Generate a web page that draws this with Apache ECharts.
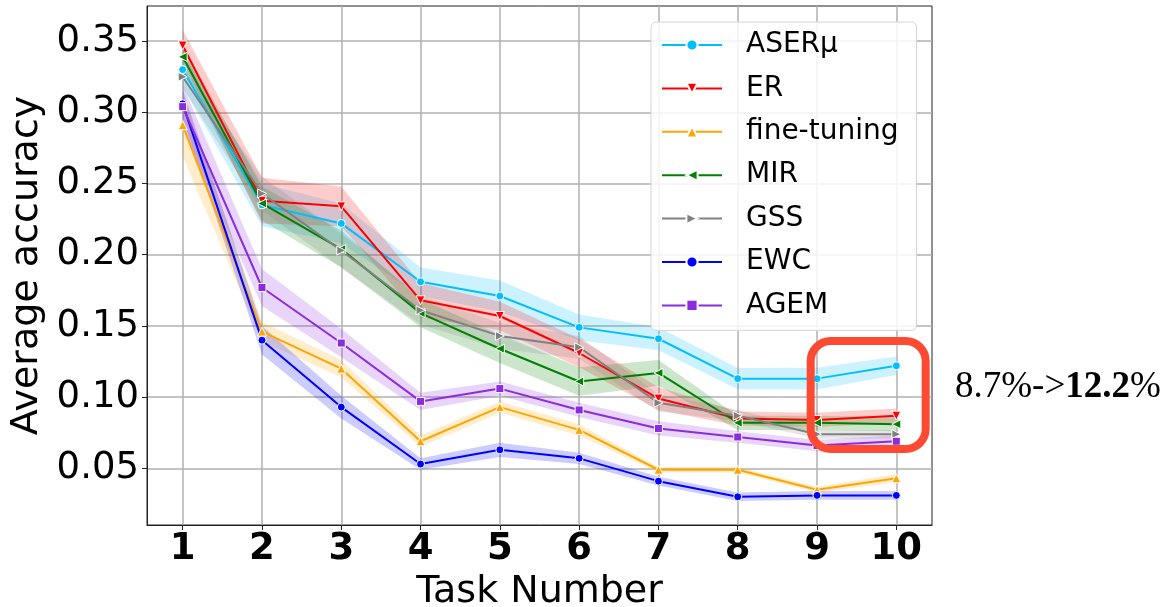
<!DOCTYPE html>
<html><head><meta charset="utf-8">
<script src="https://cdn.jsdelivr.net/npm/echarts@6/dist/echarts.min.js"></script>
<style>html,body{margin:0;padding:0;background:#fff}#c{width:1166px;height:607px}</style>
</head><body><div id="c"></div>
<script>
// ---- data ----
const taskNumbers = [1, 2, 3, 4, 5, 6, 7, 8, 9, 10];
const methodNames = ['ASERμ', 'ER', 'fine-tuning', 'MIR', 'GSS', 'EWC', 'AGEM'];

const aserMean = [0.330, 0.235, 0.222, 0.181, 0.171, 0.149, 0.141, 0.113, 0.113, 0.122];
const erMean   = [0.347, 0.238, 0.234, 0.168, 0.157, 0.131, 0.099, 0.085, 0.084, 0.087];
const ftMean   = [0.291, 0.146, 0.120, 0.069, 0.093, 0.077, 0.049, 0.049, 0.035, 0.043];
const mirMean  = [0.339, 0.236, 0.204, 0.159, 0.134, 0.111, 0.117, 0.082, 0.082, 0.081];
const gssMean  = [0.325, 0.243, 0.203, 0.161, 0.143, 0.135, 0.096, 0.087, 0.074, 0.074];
const ewcMean  = [0.306, 0.140, 0.093, 0.053, 0.063, 0.057, 0.041, 0.030, 0.031, 0.031];
const agemMean = [0.304, 0.177, 0.138, 0.097, 0.106, 0.091, 0.078, 0.072, 0.066, 0.069];

// half-width of the shaded confidence band
const aserSpread = [0.012, 0.015, 0.014, 0.010, 0.011, 0.009, 0.008, 0.0075, 0.0077, 0.0065];
const erSpread   = [0.011, 0.016, 0.014, 0.012, 0.010, 0.010, 0.008, 0.005, 0.005, 0.005];
const ftSpread   = [0.022, 0.007, 0.006, 0.004, 0.004, 0.004, 0.002, 0.002, 0.002, 0.003];
const mirSpread  = [0.008, 0.012, 0.013, 0.010, 0.010, 0.010, 0.009, 0.005, 0.005, 0.005];
const gssSpread  = [0.008, 0.012, 0.012, 0.010, 0.009, 0.008, 0.006, 0.004, 0.003, 0.003];
const ewcSpread  = [0.010, 0.010, 0.008, 0.004, 0.005, 0.004, 0.003, 0.003, 0.003, 0.003];
const agemSpread = [0.015, 0.013, 0.010, 0.006, 0.005, 0.005, 0.005, 0.004, 0.004, 0.004];

const annotationBefore = '8.7%->';
const annotationAfter = '12.2';

// ---- styling ----
const methods = [
  { mean: aserMean, spread: aserSpread, color: '#00bfff', band: 'rgba(0,191,255,0.2)',  symbol: 'circle',   rotate: 0,   size: 8 },
  { mean: erMean,   spread: erSpread,   color: '#ff0000', band: 'rgba(255,0,0,0.2)',    symbol: 'triangle', rotate: 180, size: 9 },
  { mean: ftMean,   spread: ftSpread,   color: '#ffa500', band: 'rgba(255,165,0,0.2)',  symbol: 'triangle', rotate: 0,   size: 9 },
  { mean: mirMean,  spread: mirSpread,  color: '#008000', band: 'rgba(0,128,0,0.2)',    symbol: 'triangle', rotate: 90,  size: 9 },
  { mean: gssMean,  spread: gssSpread,  color: '#808080', band: 'rgba(128,128,128,0.2)',symbol: 'triangle', rotate: -90, size: 9 },
  { mean: ewcMean,  spread: ewcSpread,  color: '#0000ff', band: 'rgba(0,0,255,0.2)',    symbol: 'circle',   rotate: 0,   size: 8 },
  { mean: agemMean, spread: agemSpread, color: '#8a2be2', band: 'rgba(138,43,226,0.2)', symbol: 'rect',     rotate: 0,   size: 8 }
];

const series = [];
methods.forEach((m, i) => {
  series.push({
    type: 'custom', name: methodNames[i] + ' band', silent: true, z: 2, clip: true,
    data: [[taskNumbers[0], m.mean[0]]],
    renderItem: (params, api) => {
      const upper = m.mean.map((v, k) => api.coord([taskNumbers[k], v + m.spread[k]]));
      const lower = m.mean.map((v, k) => api.coord([taskNumbers[k], v - m.spread[k]])).reverse();
      return { type: 'polygon', shape: { points: upper.concat(lower) }, style: { fill: m.band, stroke: null } };
    }
  });
});
methods.forEach((m, i) => {
  series.push({
    type: 'line', name: methodNames[i],
    data: m.mean.map((v, k) => [taskNumbers[k], v]),
    symbol: m.symbol, symbolSize: m.size, symbolRotate: m.rotate,
    lineStyle: { color: m.color, width: 2 },
    itemStyle: { color: m.color, borderColor: '#ffffff', borderWidth: 1 },
    z: 3, emphasis: { disabled: true }
  });
});

const isMultiple = (v, step) => Math.abs(v / step - Math.round(v / step)) < 1e-6;
const font = 'DejaVu Sans';

const chart = echarts.init(document.getElementById('c'));
chart.setOption({
  animation: false,
  backgroundColor: '#ffffff',
  grid: { left: 147, right: 234, top: 6, bottom: 82, outerBoundsMode: 'none', containLabel: false,
          show: true, borderColor: '#222', borderWidth: 1 },
  xAxis: {
    type: 'value', min: 0.55, max: 10.45, minInterval: 1, maxInterval: 1, splitNumber: 10,
    name: 'Task Number', nameLocation: 'middle', nameGap: 45,
    nameTextStyle: { fontFamily: font, fontSize: 38, color: '#000' },
    axisLine: { show: true, lineStyle: { color: '#222', width: 1 } },
    axisTick: { show: true, inside: false, length: 5, lineStyle: { color: '#222', width: 1 } },
    axisLabel: {
      margin: 6, fontFamily: font, fontSize: 37, fontWeight: 'bold', color: '#000',
      showMinLabel: false, showMaxLabel: false,
      formatter: v => isMultiple(v, 1) ? String(Math.round(v)) : ''
    },
    splitLine: { show: true, showMinLine: false, showMaxLine: false, lineStyle: { color: '#b0b0b0', width: 1.5 } }
  },
  yAxis: {
    type: 'value', min: 0.0102, max: 0.3747, minInterval: 0.05, maxInterval: 0.05, splitNumber: 7,
    name: 'Average accuracy', nameLocation: 'middle', nameGap: 100,
    nameTextStyle: { fontFamily: font, fontSize: 38, color: '#000' },
    axisLine: { show: true, lineStyle: { color: '#222', width: 1 } },
    axisTick: { show: true, inside: false, length: 5, lineStyle: { color: '#222', width: 1 } },
    axisLabel: {
      margin: 8, fontFamily: font, fontSize: 37, color: '#000',
      showMinLabel: false, showMaxLabel: false,
      formatter: v => isMultiple(v, 0.05) ? v.toFixed(2) : ''
    },
    splitLine: { show: true, showMinLine: false, showMaxLine: false, lineStyle: { color: '#b0b0b0', width: 1.5 } }
  },
  legend: {
    data: methodNames, orient: 'vertical', left: 651, top: 22, z: 20,
    padding: [8, 18, 10, 10], itemWidth: 60, itemHeight: 14, itemGap: 13.4,
    backgroundColor: 'rgba(255,255,255,0.85)', borderColor: '#d4d4d4', borderWidth: 1, borderRadius: 5,
    selectedMode: false,
    textStyle: { fontFamily: font, fontSize: 28, color: '#000', lineHeight: 30, padding: [0, 0, 0, 19] }
  },
  series: series
});

// annotation box around tasks 9-10 and the text beside it
const p1 = chart.convertToPixel({ gridIndex: 0 }, [8.92, 0.1394]);
const p2 = chart.convertToPixel({ gridIndex: 0 }, [10.37, 0.0636]);
chart.setOption({
  graphic: [
    {
      type: 'rect', z: 30, silent: true,
      shape: { x: p1[0], y: p1[1], width: p2[0] - p1[0], height: p2[1] - p1[1], r: 20 },
      style: { fill: 'none', stroke: '#fe4a33', lineWidth: 8 }
    },
    {
      type: 'text', z: 30, silent: true, left: 955, top: 369,
      style: {
        text: '{a|' + annotationBefore + '}{b|' + annotationAfter + '}{a|%}',
        rich: {
          a: { fontFamily: 'Liberation Serif', fontSize: 37, color: '#000' },
          b: { fontFamily: 'Liberation Serif', fontSize: 37, fontWeight: 'bold', color: '#000' }
        }
      }
    }
  ]
});
</script></body></html>
